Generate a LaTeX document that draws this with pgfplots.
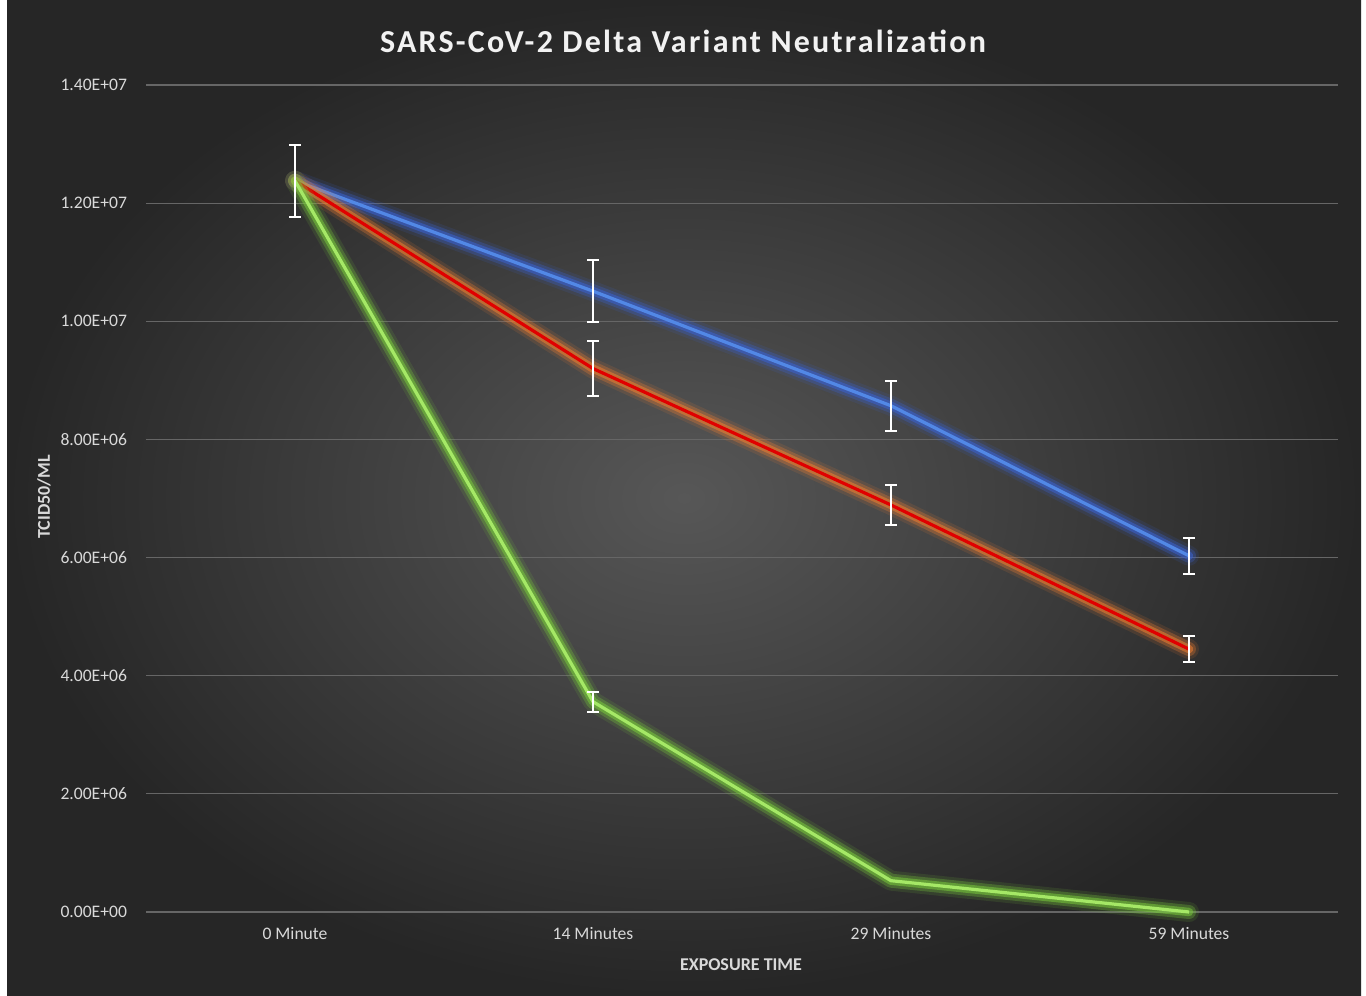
\documentclass[border=0pt]{standalone}
\usepackage{pgfplots}
\pgfplotsset{compat=1.18}
\usepackage{fontspec}
\setmainfont{Carlito}
\definecolor{bgin}{HTML}{575757}
\definecolor{bgout}{HTML}{262626}
\definecolor{gridc}{HTML}{666666}
\definecolor{txt}{HTML}{D9D9D9}
\definecolor{bluecore}{HTML}{5288E6}
\definecolor{blueglow}{HTML}{3A62D0}
\definecolor{redcore}{HTML}{E00000}
\definecolor{redglow}{HTML}{ED7D31}
\definecolor{greencore}{HTML}{A5E866}
\definecolor{greenglow}{HTML}{78C83C}
\pgfplotsset{
  glowA/.style={opacity=0.13, line width=10pt, line cap=round, line join=round, forget plot},
  glowB/.style={opacity=0.3, line width=7pt, line cap=round, line join=round, forget plot},
  glowC/.style={opacity=0.55, line width=4.2pt, line cap=round, line join=round, forget plot},
  core/.style={line width=1.6pt, line join=round},
}
\begin{document}
\begin{tikzpicture}
\useasboundingbox (0pt,0pt) rectangle (683pt,498pt);
\fill[white] (0pt,0pt) rectangle (683pt,498pt);
\shade[inner color=bgin, outer color=bgout] (3.5pt,0pt) rectangle (680.5pt,498pt);
\begin{axis}[
  at={(73pt,42pt)}, anchor=south west,
  scale only axis, width=596pt, height=413.5pt,
  xmin=-0.5, xmax=3.5, ymin=0, ymax=1.4e7,
  xtick={0,1,2,3},
  xticklabels={0 Minute,14 Minutes,29 Minutes,59 Minutes},
  ytick={0,2e6,4e6,6e6,8e6,1e7,1.2e7,1.4e7},
  yticklabels={0.00E+00,2.00E+06,4.00E+06,6.00E+06,8.00E+06,1.00E+07,1.20E+07,1.40E+07},
  scaled y ticks=false,
  axis line style={draw=none},
  major tick length=0pt,
  ymajorgrids, grid style={gridc, line width=0.6pt},
  tick label style={text=txt, font=\fontsize{8.8}{10}\selectfont},
  xticklabel style={yshift=-4pt},
  yticklabel style={xshift=-6pt},
  clip=false,
  error bars/error bar style={draw=white, line width=1pt, opacity=1},
  error bars/error mark options={rotate=90, mark size=2.8pt, draw=white, line width=1pt, opacity=1},
]
% blue
\addplot[blueglow, glowA] coordinates {(0,12.38e6) (1,10.51e6) (2,8.57e6) (3,6.03e6)};
\addplot[blueglow, glowB] coordinates {(0,12.38e6) (1,10.51e6) (2,8.57e6) (3,6.03e6)};
\addplot[blueglow, glowC] coordinates {(0,12.38e6) (1,10.51e6) (2,8.57e6) (3,6.03e6)};
\addplot[bluecore, core] coordinates {(0,12.38e6) (1,10.51e6) (2,8.57e6) (3,6.03e6)};
% red
\addplot[redglow, glowA] coordinates {(0,12.38e6) (1,9.2e6) (2,6.89e6) (3,4.45e6)};
\addplot[redglow, glowB] coordinates {(0,12.38e6) (1,9.2e6) (2,6.89e6) (3,4.45e6)};
\addplot[redglow, glowC] coordinates {(0,12.38e6) (1,9.2e6) (2,6.89e6) (3,4.45e6)};
\addplot[redcore, core] coordinates {(0,12.38e6) (1,9.2e6) (2,6.89e6) (3,4.45e6)};
% green
\addplot[greenglow, glowA] coordinates {(0,12.38e6) (1,3.56e6) (2,5.3e5) (3,0)};
\addplot[greenglow, glowB] coordinates {(0,12.38e6) (1,3.56e6) (2,5.3e5) (3,0)};
\addplot[greenglow, glowC] coordinates {(0,12.38e6) (1,3.56e6) (2,5.3e5) (3,0)};
\addplot[greencore, core] coordinates {(0,12.38e6) (1,3.56e6) (2,5.3e5) (3,0)};
% error bars
\addplot[draw=none, forget plot, error bars/.cd, y dir=both, y explicit] coordinates {
 (0,12.38e6) +- (0,6.1e5)
 (1,10.51e6) +- (0,5.2e5)
 (2,8.57e6) +- (0,4.2e5)
 (3,6.03e6) +- (0,3.0e5)};
\addplot[draw=none, forget plot, error bars/.cd, y dir=both, y explicit] coordinates {
 (1,9.2e6) +- (0,4.6e5)
 (2,6.89e6) +- (0,3.4e5)
 (3,4.45e6) +- (0,2.2e5)};
\addplot[draw=none, forget plot, error bars/.cd, y dir=both, y explicit] coordinates {
 (1,3.56e6) +- (0,1.7e5)};
\end{axis}
\node[text=white!95!black, font=\fontsize{16}{19}\bfseries\addfontfeatures{LetterSpace=7}] at (341.5pt,477.5pt) {SARS-CoV-2 Delta Variant Neutralization};
\node[text=txt, font=\fontsize{9}{11}\bfseries] at (370.5pt,15.5pt) {EXPOSURE TIME};
\node[text=txt, font=\fontsize{9}{11}\bfseries, rotate=90] at (22pt,249.5pt) {TCID50/ML};
\end{tikzpicture}
\end{document}
